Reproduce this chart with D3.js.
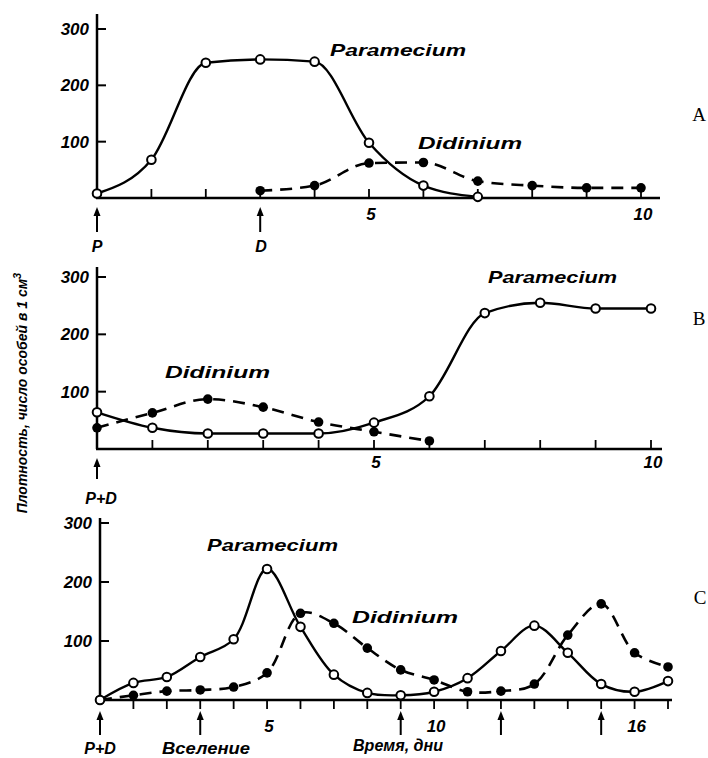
<!DOCTYPE html>
<html>
<head>
<meta charset="utf-8">
<script src="https://cdn.jsdelivr.net/npm/d3@7/dist/d3.min.js"></script>
<style>
body { margin: 0; background: #fff; }
text { font-family: "Liberation Sans", Arial, sans-serif; fill: #000; }
</style>
</head>
<body>
<div id="chart-area"></div>
<script>
// panel A: Paramecium alone first, Didinium added on day 3
var paramDaysA = [0, 1, 2, 3, 4, 5, 6, 7];
var paramA     = [8, 68, 240, 246, 242, 98, 22, 2];
var didDaysA   = [3, 4, 5, 6, 7, 8, 9, 10];
var didA       = [13, 22, 62, 63, 30, 22, 18, 18];

// panel B: both together, with sediment
var paramDaysB = [0, 1, 2, 3, 4, 5, 6, 7, 8, 9, 10];
var paramB     = [64, 37, 27, 27, 27, 46, 92, 237, 255, 245, 245];
var didDaysB   = [0, 1, 2, 3, 4, 5, 6];
var didB       = [37, 63, 87, 73, 47, 30, 14];

// panel C: with immigration
var daysC  = [0, 1, 2, 3, 4, 5, 6, 7, 8, 9, 10, 11, 12, 13, 14, 15, 16, 17];
var paramC = [0, 29, 39, 73, 103, 222, 124, 43, 12, 8, 14, 37, 83, 126, 80, 27, 14, 32];
var didC   = [0, 8, 15, 17, 22, 46, 147, 130, 88, 51, 34, 14, 15, 27, 110, 163, 80, 56];

var yTicks = [100, 200, 300];
var tickDaysAB = [1, 2, 3, 4, 5, 6, 7, 8, 9, 10];
var tickDaysC = [1, 2, 3, 4, 5, 6, 7, 8, 9, 10, 11, 12, 13, 14, 15, 16, 17];
var xLabelsAB = [5, 10];
var xLabelsC = [5, 10, 16];
var arrowsA = [0, 3];
var arrowsB = [0];
var arrowsC = [0, 3, 9, 12, 15];

var width = 708, height = 758;
var svg = d3.select("#chart-area").append("svg")
    .attr("width", width)
    .attr("height", height);

var panels = [
  { name: "A", px: paramDaysA, py: paramA, dx: didDaysA, dy: didA,
    xr: [97, 641], xEnd: 660, yr: [198, 29], yTop: 14, dom: 10,
    ticks: tickDaysAB, tickDir: -1, labels: xLabelsAB, labY: 220,
    arrows: arrowsA, arrY: [207, 232], curve: d3.curveMonotoneX,
    pLab: [330, 56, 136], dLab: [418, 149, 104], letter: [699, 121] },
  { name: "B", px: paramDaysB, py: paramB, dx: didDaysB, dy: didB,
    xr: [97, 651], xEnd: 662, yr: [449, 277], yTop: 267, dom: 10,
    ticks: tickDaysAB, tickDir: -1, labels: xLabelsAB, labY: 468,
    arrows: arrowsB, arrY: [458, 479], curve: d3.curveMonotoneX,
    pLab: [488, 283, 129], dLab: [165, 378, 105], letter: [699, 325] },
  { name: "C", px: daysC, py: paramC, dx: daysC, dy: didC,
    xr: [100, 668], xEnd: 672, yr: [700, 523], yTop: 518, dom: 17,
    ticks: tickDaysC, tickDir: 1, labels: xLabelsC, labY: 732,
    arrows: arrowsC, arrY: [711, 735], curve: d3.curveCatmullRom.alpha(0.5),
    pLab: [207, 551, 131], dLab: [352, 623, 106], letter: [700, 604] }
];

panels.forEach(function(p) {
  var x = d3.scaleLinear().domain([0, p.dom]).range(p.xr);
  var y = d3.scaleLinear().domain([0, 300]).range(p.yr);
  var g = svg.append("g");

  // axes
  g.append("line")
    .attr("x1", x(0)).attr("x2", x(0))
    .attr("y1", y(0)).attr("y2", p.yTop)
    .attr("stroke", "#000").attr("stroke-width", 2.5);
  g.append("line")
    .attr("x1", x(0) - 1).attr("x2", p.xEnd)
    .attr("y1", y(0)).attr("y2", y(0))
    .attr("stroke", "#000").attr("stroke-width", 2.5);

  g.selectAll(".yt").data(yTicks).enter().append("line")
    .attr("x1", x(0)).attr("x2", x(0) + 9)
    .attr("y1", function(d) { return y(d); })
    .attr("y2", function(d) { return y(d); })
    .attr("stroke", "#000").attr("stroke-width", 2);
  g.selectAll(".yl").data(yTicks).enter().append("text")
    .attr("x", x(0) - 8)
    .attr("y", function(d) { return y(d) + 6; })
    .attr("text-anchor", "end")
    .attr("font-size", 17).attr("font-weight", "bold").attr("font-style", "italic")
    .text(function(d) { return d; });

  g.selectAll(".xt").data(p.ticks).enter().append("line")
    .attr("x1", function(d) { return x(d); })
    .attr("x2", function(d) { return x(d); })
    .attr("y1", y(0))
    .attr("y2", y(0) + p.tickDir * 9)
    .attr("stroke", "#000").attr("stroke-width", 1.8);
  g.selectAll(".xl").data(p.labels).enter().append("text")
    .attr("x", function(d) { return x(d) + 2; })
    .attr("y", p.labY)
    .attr("text-anchor", "middle")
    .attr("font-size", 17).attr("font-weight", "bold").attr("font-style", "italic")
    .text(function(d) { return d; });

  // arrows under the axis
  p.arrows.forEach(function(d) {
    g.append("line")
      .attr("x1", x(d)).attr("x2", x(d))
      .attr("y1", p.arrY[0] + 5).attr("y2", p.arrY[1])
      .attr("stroke", "#000").attr("stroke-width", 2);
    g.append("path")
      .attr("d", "M" + x(d) + "," + p.arrY[0] + "l-3.5,9l7,0z")
      .attr("fill", "#000");
  });

  // curves
  var line = d3.line().curve(p.curve)
    .x(function(d) { return x(d[0]); })
    .y(function(d) { return y(Math.max(0, d[1])); });
  var pData = p.px.map(function(d, i) { return [d, p.py[i]]; });
  var dData = p.dx.map(function(d, i) { return [d, p.dy[i]]; });

  g.append("path").datum(dData)
    .attr("d", line).attr("fill", "none")
    .attr("stroke", "#000").attr("stroke-width", 2.6)
    .attr("stroke-dasharray", "12,8");
  g.append("path").datum(pData)
    .attr("d", line).attr("fill", "none")
    .attr("stroke", "#000").attr("stroke-width", 2.4);

  g.selectAll(".dd").data(dData).enter().append("circle")
    .attr("cx", function(d) { return x(d[0]); })
    .attr("cy", function(d) { return y(d[1]); })
    .attr("r", 4.8).attr("fill", "#000");
  g.selectAll(".pd").data(pData).enter().append("circle")
    .attr("cx", function(d) { return x(d[0]); })
    .attr("cy", function(d) { return y(d[1]); })
    .attr("r", 4.3).attr("fill", "#fff")
    .attr("stroke", "#000").attr("stroke-width", 2);

  // species names
  g.append("text")
    .attr("x", p.pLab[0]).attr("y", p.pLab[1])
    .attr("textLength", p.pLab[2]).attr("lengthAdjust", "spacingAndGlyphs")
    .attr("font-size", 17).attr("font-weight", "bold").attr("font-style", "italic")
    .text("Paramecium");
  g.append("text")
    .attr("x", p.dLab[0]).attr("y", p.dLab[1])
    .attr("textLength", p.dLab[2]).attr("lengthAdjust", "spacingAndGlyphs")
    .attr("font-size", 17).attr("font-weight", "bold").attr("font-style", "italic")
    .text("Didinium");

  g.append("text")
    .attr("x", p.letter[0]).attr("y", p.letter[1])
    .attr("text-anchor", "middle")
    .style("font-family", "'Liberation Serif', serif")
    .attr("font-size", 19)
    .text(p.name);
});

// labels under the axes
var bold = function(sel) {
  return sel.attr("font-size", 16).attr("font-weight", "bold").attr("font-style", "italic");
};
bold(svg.append("text").attr("x", 97).attr("y", 252).attr("text-anchor", "middle").text("P"));
bold(svg.append("text").attr("x", 261).attr("y", 252).attr("text-anchor", "middle").text("D"));
bold(svg.append("text").attr("x", 101).attr("y", 504).attr("text-anchor", "middle").text("P+D"));
bold(svg.append("text").attr("x", 100).attr("y", 754).attr("text-anchor", "middle").text("P+D"));
bold(svg.append("text").attr("x", 206).attr("y", 754).attr("text-anchor", "middle")
  .attr("textLength", 88).attr("lengthAdjust", "spacingAndGlyphs").text("Вселение"));
bold(svg.append("text").attr("x", 398).attr("y", 751).attr("text-anchor", "middle")
  .attr("textLength", 90).attr("lengthAdjust", "spacingAndGlyphs").text("Время, дни"));

// y axis title
var yt = svg.append("text")
  .attr("transform", "translate(27,393) rotate(-90)")
  .attr("text-anchor", "middle")
  .attr("font-size", 14).attr("font-weight", "bold").attr("font-style", "italic");
yt.append("tspan").text("Плотность, число особей в 1 см");
yt.append("tspan").attr("dy", -6).attr("font-size", 11).text("3");
</script>
</body>
</html>
